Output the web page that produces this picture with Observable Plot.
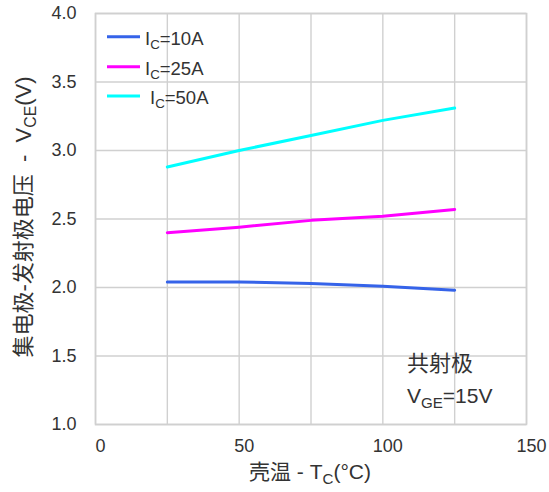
<!DOCTYPE html>
<html>
<head>
<meta charset="utf-8">
<script src="https://cdn.jsdelivr.net/npm/d3@7"></script>
<script src="https://cdn.jsdelivr.net/npm/@observablehq/plot@0.6"></script>
<style>
  body { margin: 0; background: #fff; }
  svg text { white-space: pre; }
</style>
</head>
<body>
<div id="chart"></div>
<script>
// Case temperature (°C) at which V_CE(sat) was measured
const temperature = [25, 50, 75, 100, 125];
// Collector-emitter voltage (V) for each collector current
const vce10A = [2.04, 2.04, 2.03, 2.01, 1.98];
const vce25A = [2.40, 2.44, 2.49, 2.52, 2.57];
const vce50A = [2.88, 3.00, 3.11, 3.22, 3.31];
const currents = ["10A", "25A", "50A"];
const currentColors = ["#3563e9", "#ff00ff", "#00ffff"];
// Axis ticks
const xGridTicks = [0, 25, 50, 75, 100, 125, 150];
const xTickLabels = [0, 50, 100, 150];
const yTicks = [1.0, 1.5, 2.0, 2.5, 3.0, 3.5, 4.0];

const rows = [vce10A, vce25A, vce50A].flatMap((vals, i) =>
  temperature.map((t, j) => ({ t, v: vals[j], ic: currents[i] }))
);

const font = '"Liberation Sans", Arial, "Noto Sans CJK SC", sans-serif';
const gridColor = "#d0d0d0";

const chart = Plot.plot({
  width: 549,
  height: 492,
  marginLeft: 95,
  marginRight: 23,
  marginTop: 13,
  marginBottom: 68,
  style: { fontFamily: font, fontSize: "18px", color: "#333", background: "#fff", overflow: "visible" },
  x: { domain: [0, 150] },
  y: { domain: [1, 4] },
  color: { domain: currents, range: currentColors },
  marks: [
    Plot.gridX(xGridTicks, { stroke: gridColor, strokeOpacity: 1, strokeWidth: 1.4 }),
    Plot.gridY(yTicks, { stroke: gridColor, strokeOpacity: 1, strokeWidth: 1.4 }),
    Plot.frame({ stroke: gridColor, strokeWidth: 1.6 }),
    Plot.axisX(xTickLabels, { tickSize: 0, tickPadding: 15, dx: 5, label: null, fill: "#333" }),
    Plot.axisY(yTicks, { tickSize: 0, tickPadding: 19, tickFormat: d3.format(".1f"), label: null, fill: "#333" }),
    Plot.line(rows, { x: "t", y: "v", z: "ic", stroke: "ic", strokeWidth: 3 })
  ]
});

document.getElementById("chart").appendChild(chart);

const svg = d3.select(chart);
const overlay = svg.append("g").attr("font-family", font).attr("fill", "#333").attr("text-anchor", "start");

// Text with a subscript segment: parts = [[text, isSub], ...]
function richText(g, x, y, parts, size, opts = {}) {
  const t = g.append("text")
    .attr("x", x).attr("y", y)
    .attr("font-size", size)
    .attr("text-anchor", opts.anchor || "start");
  if (opts.transform) t.attr("transform", opts.transform);
  let lowered = false;
  for (const [s, sub] of parts) {
    const span = t.append("tspan").text(s);
    if (sub && !lowered) { span.attr("font-size", size * 0.72).attr("dy", size * 0.22); lowered = true; }
    else if (!sub && lowered) { span.attr("dy", -size * 0.22); lowered = false; }
  }
  return t;
}

// Legend
const legendRows = [36.7, 66.7, 96];
const legendTextX = [145, 145, 150];
currents.forEach((c, i) => {
  overlay.append("line")
    .attr("x1", 107).attr("x2", 140)
    .attr("y1", legendRows[i]).attr("y2", legendRows[i])
    .attr("stroke", currentColors[i]).attr("stroke-width", 3);
  richText(overlay, legendTextX[i], legendRows[i] + 8, [["I", false], ["C", true], ["=" + c, false]], 18.5);
});

// Test condition note
overlay.append("text").attr("x", 407).attr("y", 371).attr("font-size", 22)
  .attr("text-anchor", "start").text("共射极");
richText(overlay, 407, 403, [["V", false], ["GE", true], ["=15V", false]], 21);

// Axis titles
richText(overlay, 310, 479, [["壳温 - T", false], ["C", true], ["(°C)", false]], 21, { anchor: "middle" });
richText(overlay, 0, 0, [["集电极-发射极电压  -  V", false], ["CE", true], ["(V)", false]], 22,
  { anchor: "middle", transform: "translate(31,217) rotate(-90)" });
</script>
</body>
</html>
